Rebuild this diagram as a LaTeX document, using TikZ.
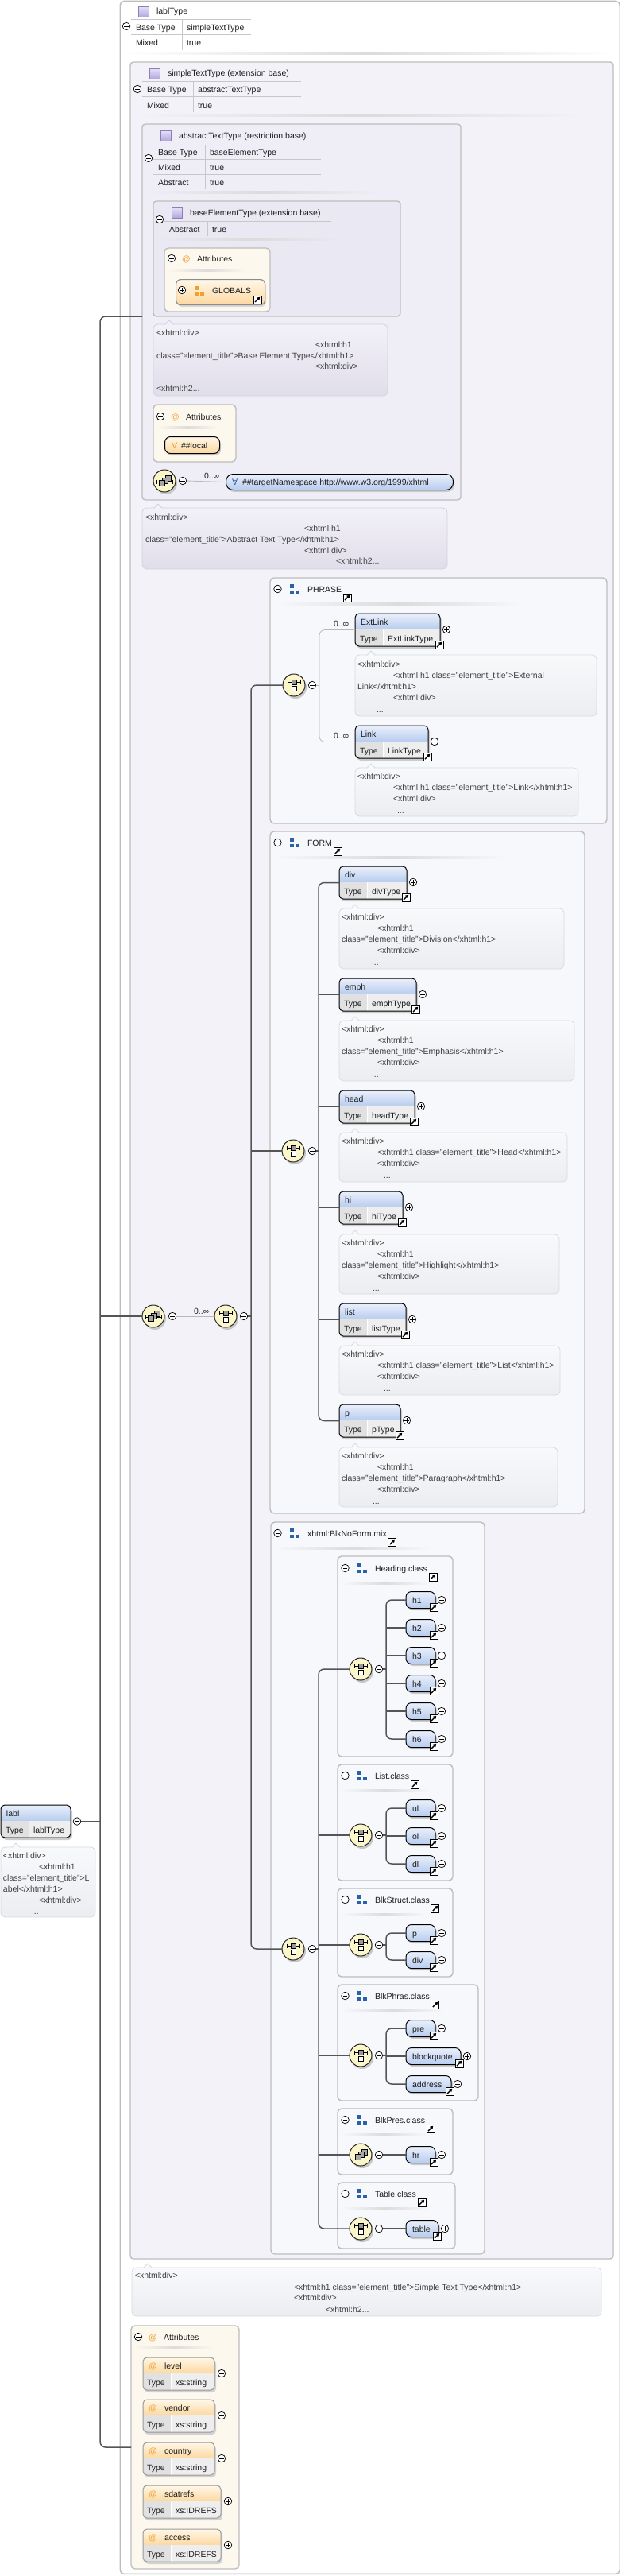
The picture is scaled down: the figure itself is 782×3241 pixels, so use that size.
\documentclass[tikz,border=0pt]{standalone}
\usepackage{fontspec}
\setmainfont{Liberation Sans}
\newfontfamily\dvs{DejaVu Sans}
\usetikzlibrary{arrows.meta,calc}

\definecolor{ctA}{HTML}{F4F2F9}
\definecolor{ctB}{HTML}{EFEDF6}
\definecolor{ctC}{HTML}{EAE8F2}
\definecolor{grpfill}{HTML}{F7F8FC}
\definecolor{boxline}{HTML}{BDBDBD}
\definecolor{connc}{HTML}{555555}
\definecolor{elhdtop}{HTML}{EAF0FB}
\definecolor{elhdbot}{HTML}{B7CCEF}
\definecolor{typerow}{HTML}{EEEEEE}
\definecolor{typecell}{HTML}{E1E1E1}
\definecolor{attrtop}{HTML}{FFF7E8}
\definecolor{attrbot}{HTML}{FCD8A0}
\definecolor{attrfill}{HTML}{FDF8EE}
\definecolor{orng}{HTML}{F0A030}
\definecolor{grpblue}{HTML}{2A62AA}
\definecolor{icfill}{HTML}{FAF6C9}
\definecolor{annAtop}{HTML}{F2F0F8}
\definecolor{annAbot}{HTML}{E1DEEB}
\definecolor{annAline}{HTML}{D3D0DE}
\definecolor{annBtop}{HTML}{F8F9FB}
\definecolor{annBbot}{HTML}{ECEDF1}
\definecolor{annBline}{HTML}{D9DADF}
\definecolor{lavtop}{HTML}{E6E0F7}
\definecolor{lavbot}{HTML}{B3A7DD}
\definecolor{lavline}{HTML}{8A80B6}
\definecolor{txtc}{HTML}{1E1E1E}
\definecolor{anntxt}{HTML}{404040}
\definecolor{tnsblue}{HTML}{3060B0}

\newcommand\dfs{\fontsize{10.5}{12}\selectfont}

\tikzset{
 lbl/.style={anchor=base west, inner sep=0pt, outer sep=0pt, font=\dfs, text=txtc},
 antx/.style={anchor=base west, inner sep=0pt, outer sep=0pt, font=\dfs, text=anntxt},
 conn/.style={draw=connc, line width=1.5pt, rounded corners=7pt},
 lconn/.style={draw=black!28, line width=0.8pt, rounded corners=7pt},
 pmc/.style={circle, draw=black, fill=white, line width=0.7pt, minimum size=9.5pt, inner sep=0pt, outer sep=0pt},
 ctbox/.style={draw=boxline, line width=1.4pt, rounded corners=4pt, inner sep=0pt, outer sep=0pt},
 grpbox/.style={draw=boxline, line width=1.4pt, fill=grpfill, rounded corners=5pt, inner sep=0pt, outer sep=0pt},
 atbox/.style={draw=boxline, line width=1.4pt, fill=attrfill, rounded corners=5pt, inner sep=0pt, outer sep=0pt},
 icn/.style={circle, draw=black!85, line width=1pt, fill=icfill, minimum size=28pt, inner sep=0pt, outer sep=0pt},
 lnkbox/.style={draw=black, fill=white, line width=0.8pt, minimum size=10pt, inner sep=0pt, outer sep=0pt},
 tbl/.style={draw=black!22, line width=1pt},
 cticn/.style={draw=lavline, line width=0.8pt, top color=lavtop, bottom color=lavbot, minimum size=13pt, inner sep=0pt, outer sep=0pt},
 annA/.style={draw=annAline, line width=0.8pt, rounded corners=6pt, top color=annAtop, bottom color=annAbot, inner sep=0pt, outer sep=0pt},
 annB/.style={draw=annBline, line width=0.8pt, rounded corners=6pt, top color=annBtop, bottom color=annBbot, inner sep=0pt, outer sep=0pt},
}

\newcommand\pmminus[2]{\node[pmc] (#1) at #2 {};%
 \draw[line width=0.8pt] ($(#1.center)+(-2.7,0)$) -- ($(#1.center)+(2.7,0)$);}
\newcommand\pmplus[2]{\node[pmc] (#1) at #2 {};%
 \draw[line width=0.8pt] ($(#1.center)+(-2.7,0)$) -- ($(#1.center)+(2.7,0)$)
   ($(#1.center)+(0,-2.7)$) -- ($(#1.center)+(0,2.7)$);}
\newcommand\lnk[2]{\node[lnkbox] (#1) at #2 {};%
 \draw[line width=1.4pt,-{Triangle[length=3.8pt,width=4.4pt]}] ($(#1.center)+(-3,3)$) -- ($(#1.center)+(3.3,-3.3)$);}
\newcommand\grpicon[3]{%
 \fill[#3] (#1,#2-6) rectangle (#1+4.5,#2-1.5);
 \fill[#3] (#1,#2+1.5) rectangle (#1+4.5,#2+6);
 \fill[#3] (#1+7,#2+2) rectangle (#1+11.5,#2+6);}
\newcommand\shadeline[4]{\shade[left color=#4,right color=#4,middle color=black!14] (#1,#3-1.2) rectangle (#2,#3+1.2);}
\newcommand\chicon[3]{%
 \fill[black!22] (#2+2,#3+3) circle (14pt);
 \node[icn] (#1) at (#2,#3) {};
 \draw[line width=0.8pt] (#2-8,#3-4) -- (#2+8,#3-4) (#2-8,#3-6.5) -- (#2-8,#3-1.5) (#2+8,#3-6.5) -- (#2+8,#3-1.5);
 \filldraw[fill=black!40, draw=black, line width=0.6pt] (#2-3,#3-7) rectangle (#2+3,#3-1);
 \filldraw[fill=white, draw=black, line width=0.6pt] (#2-3,#3+1.5) rectangle (#2+3,#3+7.5);}
\newcommand\seqicon[3]{%
 \fill[black!22] (#2+2,#3+3) circle (14pt);
 \node[icn] (#1) at (#2,#3) {};
 \draw[line width=0.8pt] (#2-10,#3+1) -- (#2+10,#3+1) (#2-10,#3-1.5) -- (#2-10,#3+3.5) (#2+10,#3-1.5) -- (#2+10,#3+3.5);
 \filldraw[fill=black!35, draw=black, line width=0.6pt] (#2+1,#3-7) rectangle (#2+8,#3);
 \filldraw[fill=black!35, draw=black, line width=0.6pt] (#2-3,#3-4) rectangle (#2+4,#3+3);
 \filldraw[fill=black!35, draw=black, line width=0.6pt] (#2-7,#3-1) rectangle (#2,#3+6);}
\newcommand\elemBox[6]{%
 \fill[black!20, rounded corners=5pt] (#2+2,#3+3) rectangle (#2+#4+2,#3+44);
 \begin{scope}
  \clip[rounded corners=5pt] (#2,#3) rectangle (#2+#4,#3+41);
  \shade[top color=elhdtop, bottom color=elhdbot] (#2,#3) rectangle (#2+#4,#3+20);
  \fill[typerow] (#2,#3+20) rectangle (#2+#4,#3+41);
  \fill[typecell] (#2,#3+20) rectangle (#2+35,#3+41);
 \end{scope}
 \draw[white, line width=1pt] (#2+35.5,#3+20) -- (#2+35.5,#3+41);
 \node[draw=black, line width=1pt, rounded corners=5pt, minimum width=#4pt, minimum height=41pt, anchor=north west, inner sep=0pt, outer sep=0pt] (#1) at (#2,#3) {};
 \node[lbl] (#1-n) at (#2+7,#3+14) {#5};
 \node[lbl] (#1-k) at (#2+6,#3+35) {Type};
 \node[lbl] (#1-t) at (#2+41,#3+35) {#6};}
\newcommand\elemT[6]{\elemBox{#1}{#2}{#3}{#4}{#5}{#6}%
 \pmplus{#1-p}{(#2+#4+8,#3+20)}%
 \lnk{#1-l}{(#2+#4-1,#3+39)}}
\newcommand\attrBox[6]{%
 \fill[black!18, rounded corners=5pt] (#2+2,#3+3) rectangle (#2+#4+2,#3+44);
 \begin{scope}
  \clip[rounded corners=5pt] (#2,#3) rectangle (#2+#4,#3+41);
  \shade[top color=attrtop, bottom color=attrbot] (#2,#3) rectangle (#2+#4,#3+20);
  \fill[typerow] (#2,#3+20) rectangle (#2+#4,#3+41);
  \fill[typecell] (#2,#3+20) rectangle (#2+35,#3+41);
 \end{scope}
 \draw[white, line width=1pt] (#2+35.5,#3+20) -- (#2+35.5,#3+41);
 \node[draw=black!40, line width=1pt, rounded corners=5pt, minimum width=#4pt, minimum height=41pt, anchor=north west, inner sep=0pt, outer sep=0pt] (#1) at (#2,#3) {};
 \node[lbl, text=orng] (#1-a) at (#2+7,#3+14) {@};
 \node[lbl] (#1-n) at (#2+27,#3+14) {#5};
 \node[lbl] (#1-k) at (#2+5,#3+35) {Type};
 \node[lbl] (#1-t) at (#2+41,#3+35) {#6};
 \pmplus{#1-p}{(#2+#4+9,#3+20)}}
\newcommand\elemS[5]{%
 \fill[black!20, rounded corners=7pt] (#2+2,#3-8) rectangle (#2+#4+2,#3+13);
 \node[draw=black, line width=1pt, rounded corners=7pt, minimum width=#4pt, minimum height=21pt, anchor=west, top color=elhdtop, bottom color=elhdbot, inner sep=0pt, outer sep=0pt] (#1) at (#2,#3) {};
 \node[lbl] (#1-n) at (#2+8,#3+4) {#5};
 \pmplus{#1-p}{(#2+#4+8,#3)}%
 \lnk{#1-l}{(#2+#4-2,#3+9)}}
\newcommand\ann[7]{%
 \node[ann#6, minimum width={(#4-#2)*1pt}, minimum height={(#5-#3)*1pt}, anchor=north west] (#1) at (#2,#3) {};
 \fill[ann#6top] (#7-5,#3+1.2) -- (#7,#3-5) -- (#7+5,#3+1.2) -- cycle;
 \draw[ann#6line, line width=0.8pt] (#7-5,#3) -- (#7,#3-5) -- (#7+5,#3);}
\newcommand\grptitle[6]{%
 \pmminus{#1M}{(#2+9.5,#3)}%
 \grpicon{#2+25}{#3}{grpblue}%
 \node[lbl] (#1T) at (#2+47,#3+4) {#4};
 \lnk{#1L}{($(#1T.base east)+(7,7)$)}%
 \shadeline{#2+5}{#5}{#3+19}{#6}}
% five-line annotation text
\newcommand\annfive[6]{%
 \node[antx] (#1a) at (#2,#4+4) {<xhtml:div>};
 \node[antx] (#1b) at (#3,#4+18.3) {<xhtml:h1};
 \node[antx] (#1c) at (#2,#4+32.5) {class="element\_title">#5</xhtml:h1>};
 \node[antx] (#1d) at (#3,#4+46.8) {<xhtml:div>};
 \node[antx] (#1e) at (#6,#4+61) {...};}
\newcommand\annfour[6]{%
 \node[antx] (#1a) at (#2,#4+4) {<xhtml:div>};
 \node[antx] (#1b) at (#3,#4+18.5) {<xhtml:h1 class="element\_title">#5</xhtml:h1>};
 \node[antx] (#1c) at (#3,#4+32) {<xhtml:div>};
 \node[antx] (#1d) at (#6,#4+47) {...};}

\begin{document}
\begin{tikzpicture}[x=1pt,y=-1pt]
\useasboundingbox[fill=white] (0,0) rectangle (782,3241);

% ===== outer lablType box
\node[draw=boxline, line width=1.4pt, rounded corners=5pt, fill=white, minimum width=629pt, minimum height=3237pt, anchor=north west, inner sep=0pt] (outer) at (150.5,0.7) {};
\node[cticn] (ltI) at (180.5,14.5) {};
\node[lbl] (ltT) at (197,18) {lablType};
\pmminus{ltM}{(159,33)}
\draw[tbl] (165,25) -- (316,25) (165,44) -- (316,44) (229,25) -- (229,63);
\node[lbl] (lt1) at (171,39) {Base Type};
\node[lbl] (lt2) at (235,39) {simpleTextType};
\node[lbl] (lt3) at (171,58) {Mixed};
\node[lbl] (lt4) at (235,58) {true};
\shadeline{155}{775}{67}{white}

% ===== simpleTextType
\node[ctbox, fill=ctA, minimum width=608pt, minimum height=2764pt, anchor=north west] (stt) at (164,78) {};
\node[cticn] (sttI) at (194.5,92.5) {};
\node[lbl] (sttT) at (211,96) {simpleTextType (extension base)};
\pmminus{sttM}{(173,112)}
\draw[tbl] (179,103) -- (379,103) (179,122) -- (379,122) (243,103) -- (243,141);
\node[lbl] (stt1) at (185,117) {Base Type};
\node[lbl] (stt2) at (249,117) {abstractTextType};
\node[lbl] (stt3) at (185,136) {Mixed};
\node[lbl] (stt4) at (249,136) {true};
\shadeline{169}{740}{145}{ctA}

% ===== abstractTextType
\node[ctbox, fill=ctB, minimum width=401pt, minimum height=473pt, anchor=north west] (abs) at (179,156) {};
\node[cticn] (absI) at (208.5,170.5) {};
\node[lbl] (absT) at (225,174) {abstractTextType (restriction base)};
\pmminus{absM}{(187,199)}
\draw[tbl] (193,182) -- (404,182) (193,200) -- (404,200) (193,219) -- (404,219) (258,182) -- (258,238);
\node[lbl] (abs1) at (199,195) {Base Type};
\node[lbl] (abs2) at (264,195) {baseElementType};
\node[lbl] (abs3) at (199,214) {Mixed};
\node[lbl] (abs4) at (264,214) {true};
\node[lbl] (abs5) at (199,233) {Abstract};
\node[lbl] (abs6) at (264,233) {true};
\shadeline{184}{480}{242}{ctB}

% ===== baseElementType
\node[ctbox, fill=ctC, minimum width=311pt, minimum height=145pt, anchor=north west] (bet) at (193,253) {};
\node[cticn] (betI) at (222.5,267.5) {};
\node[lbl] (betT) at (239,271) {baseElementType (extension base)};
\pmminus{betM}{(201,276)}
\draw[tbl] (207,278) -- (417,278) (261,278) -- (261,297);
\node[lbl] (bet1) at (213,292) {Abstract};
\node[lbl] (bet2) at (267,292) {true};
\shadeline{198}{430}{301}{ctC}

% attributes A
\node[atbox, minimum width=133pt, minimum height=80pt, anchor=north west] (atA) at (207,312) {};
\pmminus{atAM}{(216,325)}
\node[lbl, text=orng] (atAa) at (229,329) {@};
\node[lbl] (atAT) at (248,329) {Attributes};
\shadeline{212}{310}{340}{attrfill}
\fill[black!15, rounded corners=6pt] (223,354) rectangle (335,386);
\node[draw=black!45, line width=1.2pt, rounded corners=6pt, top color=attrtop, bottom color=attrbot, minimum width=112pt, minimum height=32pt, anchor=north west, inner sep=0pt] (glob) at (221,351) {};
\pmplus{globP}{(229,365)}
\grpicon{245}{366}{orng}
\node[lbl] (globT) at (267,369) {GLOBALS};
\lnk{globL}{(324,377)}

% annotation base element
\ann{betA}{193}{408}{488}{498}{A}{213}
\node[antx] (betAa) at (197,422) {<xhtml:div>};
\node[antx] (betAb) at (397,437) {<xhtml:h1};
\node[antx] (betAc) at (197,451) {class="element\_title">Base Element Type</xhtml:h1>};
\node[antx] (betAd) at (397,464) {<xhtml:div>};
\node[antx] (betAe) at (197,492) {<xhtml:h2...};

% attributes B
\node[atbox, minimum width=104pt, minimum height=72pt, anchor=north west] (atB) at (193,509) {};
\pmminus{atBM}{(202,524)}
\node[lbl, text=orng] (atBa) at (215,528) {@};
\node[lbl] (atBT) at (234,528) {Attributes};
\shadeline{198}{275}{538}{attrfill}
\fill[black!20, rounded corners=7pt] (209,552) rectangle (278,573);
\node[draw=black, line width=1pt, rounded corners=7pt, top color=attrtop, bottom color=attrbot, minimum width=69pt, minimum height=21pt, anchor=north west, inner sep=0pt] (loc) at (207,549) {};
\node[lbl, text=orng, font=\dvs\dfs] (locA) at (216,564) {∀};
\node[lbl] (locT) at (228,564) {\#\#local};

% any wildcard sequence
\seqicon{anyS}{207}{605}
\pmminus{anyM}{(230,605)}
\fill[black!20, rounded corners=9pt] (286,599) rectangle (572,619);
\node[draw=black, line width=1pt, rounded corners=9pt, top color=elhdtop, bottom color=elhdbot, minimum width=286pt, minimum height=20pt, anchor=north west, inner sep=0pt] (tns) at (284,596) {};
\draw[lconn] (anyM.east) -- (tns.west);
\node[lbl] (anyO) at (257,602) {0..∞};
\node[lbl, text=tnsblue, font=\dvs\dfs] (tnsA) at (292,610) {∀};
\node[lbl] (tnsT) at (305,610) {\#\#targetNamespace http://www.w3.org/1999/xhtml};

% annotation abstract
\ann{absA}{179}{639}{563}{716}{A}{199}
\node[antx] (absAa) at (183,654) {<xhtml:div>};
\node[antx] (absAb) at (383,668) {<xhtml:h1};
\node[antx] (absAc) at (183,682) {class="element\_title">Abstract Text Type</xhtml:h1>};
\node[antx] (absAd) at (383,696) {<xhtml:div>};
\node[antx] (absAe) at (423,709) {<xhtml:h2...};

% ===== PHRASE
\node[grpbox, minimum width=424pt, minimum height=309pt, anchor=north west] (phr) at (340,727) {};
\grptitle{phr}{340}{741}{PHRASE}{660}{grpfill}
\chicon{phCh}{370}{862}
\pmminus{phChM}{(393,862)}
\elemT{ext}{447}{772}{107}{ExtLink}{ExtLinkType}
\node[lbl] (extO) at (420,788) {0..∞};
\ann{extA}{447}{824}{751}{901}{B}{467}
\node[antx] (extAa) at (450,839) {<xhtml:div>};
\node[antx] (extAb) at (495,853) {<xhtml:h1 class="element\_title">External};
\node[antx] (extAc) at (450,867) {Link</xhtml:h1>};
\node[antx] (extAd) at (495,881) {<xhtml:div>};
\node[antx] (extAe) at (474,896) {...};
\elemT{link}{447}{913}{92}{Link}{LinkType}
\node[lbl] (linkO) at (420,929) {0..∞};
\ann{linkA}{447}{966}{728}{1027}{B}{467}
\annfour{linkA}{450}{495}{976}{Link}{500}

% ===== FORM
\node[grpbox, minimum width=396pt, minimum height=858pt, anchor=north west] (frm) at (340,1046) {};
\grptitle{frm}{340}{1060}{FORM}{637}{grpfill}
\chicon{fmCh}{369}{1448}
\pmminus{fmChM}{(393,1448)}
\elemT{fdiv}{427}{1090}{85}{div}{divType}
\ann{fdivA}{427}{1143}{710}{1219}{B}{447}
\annfive{fdivA}{430}{475}{1153}{Division}{468}
\elemT{emph}{427}{1231}{97}{emph}{emphType}
\ann{emphA}{427}{1284}{723}{1360}{B}{447}
\annfive{emphA}{430}{475}{1294}{Emphasis}{468}
\elemT{head}{427}{1372}{95}{head}{headType}
\ann{headA}{427}{1425}{714}{1487}{B}{447}
\annfour{headA}{430}{475}{1435}{Head}{483}
\elemT{hi}{427}{1499}{80}{hi}{hiType}
\ann{hiA}{427}{1553}{704}{1628}{B}{447}
\annfive{hiA}{430}{475}{1563}{Highlight}{469}
\elemT{list}{427}{1640}{84}{list}{listType}
\ann{listA}{427}{1693}{705}{1755}{B}{447}
\annfour{listA}{430}{475}{1703}{List}{483}
\elemT{fp}{427}{1767}{77}{p}{pType}
\ann{fpA}{427}{1821}{702}{1896}{B}{447}
\annfive{fpA}{430}{475}{1831}{Paragraph}{469}

% ===== xhtml:BlkNoForm.mix
\node[grpbox, minimum width=269pt, minimum height=921pt, anchor=north west] (bnf) at (341,1915) {};
\grptitle{bnf}{340}{1929}{xhtml:BlkNoForm.mix}{543}{grpfill}
\chicon{bnCh}{369}{2452}
\pmminus{bnChM}{(393,2452)}

% Heading.class
\node[grpbox, minimum width=145pt, minimum height=252pt, anchor=north west] (hec) at (425,1958) {};
\grptitle{hec}{425}{1973}{Heading.class}{540}{grpfill}
\chicon{heCh}{454}{2100}
\pmminus{heChM}{(477,2100)}
\elemS{h1}{511}{2013}{37}{h1}
\elemS{h2}{511}{2048}{37}{h2}
\elemS{h3}{511}{2083}{37}{h3}
\elemS{h4}{511}{2118}{37}{h4}
\elemS{h5}{511}{2153}{37}{h5}
\elemS{h6}{511}{2188}{37}{h6}

% List.class
\node[grpbox, minimum width=145pt, minimum height=146pt, anchor=north west] (lic) at (425,2220) {};
\grptitle{lic}{425}{2234}{List.class}{540}{grpfill}
\chicon{liCh}{454}{2309}
\pmminus{liChM}{(477,2309)}
\elemS{ul}{511}{2275}{37}{ul}
\elemS{ol}{511}{2310}{37}{ol}
\elemS{dl}{511}{2345}{37}{dl}

% BlkStruct.class
\node[grpbox, minimum width=145pt, minimum height=111pt, anchor=north west] (bsc) at (425,2376) {};
\grptitle{bsc}{425}{2390}{BlkStruct.class}{537}{grpfill}
\chicon{bsCh}{454}{2447}
\pmminus{bsChM}{(477,2447)}
\elemS{bsp}{511}{2432}{37}{p}
\elemS{bsdiv}{511}{2466}{37}{div}

% BlkPhras.class
\node[grpbox, minimum width=177pt, minimum height=146pt, anchor=north west] (bpc) at (425,2497) {};
\grptitle{bpc}{425}{2511}{BlkPhras.class}{560}{grpfill}
\chicon{bpCh}{454}{2586}
\pmminus{bpChM}{(477,2586)}
\elemS{pre}{511}{2552}{37}{pre}
\elemS{bq}{511}{2587}{69}{blockquote}
\elemS{addr}{511}{2622}{57}{address}

% BlkPres.class
\node[grpbox, minimum width=145pt, minimum height=83pt, anchor=north west] (brc) at (425,2653) {};
\grptitle{brc}{425}{2667}{BlkPres.class}{537}{grpfill}
\seqicon{prSq}{454}{2711}
\pmminus{prSqM}{(477,2711)}
\elemS{hr}{511}{2711}{37}{hr}

% Table.class
\node[grpbox, minimum width=148pt, minimum height=83pt, anchor=north west] (tac) at (425,2746) {};
\grptitle{tac}{425}{2760}{Table.class}{540}{grpfill}
\chicon{taCh}{454}{2804}
\pmminus{taChM}{(477,2804)}
\elemS{table}{511}{2804}{41}{table}

% ===== simpleTextType annotation
\ann{sttA}{166}{2853}{757}{2914}{B}{186}
\node[antx] (sttAa) at (170,2866) {<xhtml:div>};
\node[antx] (sttAb) at (370,2881) {<xhtml:h1 class="element\_title">Simple Text Type</xhtml:h1>};
\node[antx] (sttAc) at (370,2894) {<xhtml:div>};
\node[antx] (sttAd) at (410,2909) {<xhtml:h2...};

% ===== attributes C
\node[atbox, minimum width=136pt, minimum height=306pt, anchor=north west] (atC) at (165,2926) {};
\pmminus{atCM}{(174,2940)}
\node[lbl, text=orng] (atCa) at (187,2944) {@};
\node[lbl] (atCT) at (206,2944) {Attributes};
\shadeline{170}{268}{2954}{attrfill}
\attrBox{aLev}{180}{2966}{90}{level}{xs:string}
\attrBox{aVen}{180}{3019}{90}{vendor}{xs:string}
\attrBox{aCou}{180}{3073}{90}{country}{xs:string}
\attrBox{aSda}{180}{3127}{98}{sdatrefs}{xs:IDREFS}
\attrBox{aAcc}{180}{3182}{98}{access}{xs:IDREFS}

% ===== labl element
\elemBox{labl}{1}{2271}{88}{labl}{lablType}
\pmminus{lablM}{(97,2291.5)}
\ann{lablA}{1}{2324}{120}{2412}{B}{20}
\node[antx] (lablAa) at (4,2338) {<xhtml:div>};
\node[antx] (lablAb) at (49,2352) {<xhtml:h1};
\node[antx] (lablAc) at (4,2366) {class="element\_title">L};
\node[antx] (lablAd) at (4,2380) {abel</xhtml:h1>};
\node[antx] (lablAe) at (49,2394) {<xhtml:div>};
\node[antx] (lablAf) at (40,2408) {...};

% ===== main content model
\seqicon{mSq}{193}{1656}
\pmminus{mSqM}{(217,1656)}
\chicon{mCh}{284}{1656}
\pmminus{mChM}{(307,1656)}
\draw[lconn] (mSqM.east) -- (mCh.west);
\node[lbl] (mO) at (244,1653) {0..∞};

% ===== connectors
\coordinate (trunk) at (126,0);
\coordinate (br1) at (316,0);
\coordinate (br2) at (402,0);
\coordinate (br3) at (401,0);
\coordinate (br4) at (486,0);

\draw[conn] (abs.west |- bet.south) -- (trunk |- bet.south) -- (trunk |- atC.west) -- (atC.west);
\draw[conn] (lablM.east) -- (trunk |- lablM.east);
\draw[conn] (trunk |- mSq.west) -- (mSq.west);
\draw[conn] (mChM.east) -- (br1 |- mChM.east);
\draw[conn] (phCh.west) -- (br1 |- phCh.west) -- (br1 |- bnCh.west) -- (bnCh.west);
\draw[conn] (br1 |- fmCh.west) -- (fmCh.west);

\draw[lconn] (phChM.east) -- (br2 |- phChM.east);
\draw[lconn] (ext.west) -- (br2 |- ext.west) -- (br2 |- link.west) -- (link.west);

\draw[conn] (fmChM.east) -- (br3 |- fmChM.east);
\draw[conn] (fdiv.west) -- (br3 |- fdiv.west) -- (br3 |- fp.west) -- (fp.west);
\foreach \n in {emph,head,hi,list} {\draw[conn] (br3 |- \n.west) -- (\n.west);}

\draw[conn] (bnChM.east) -- (br3 |- bnChM.east);
\draw[conn] (heCh.west) -- (br3 |- heCh.west) -- (br3 |- taCh.west) -- (taCh.west);
\foreach \n in {liCh,bsCh,bpCh,prSq} {\draw[conn] (br3 |- \n.west) -- (\n.west);}

\draw[conn] (heChM.east) -- (br4 |- heChM.east);
\draw[conn] (h1.west) -- (br4 |- h1.west) -- (br4 |- h6.west) -- (h6.west);
\foreach \n in {h2,h3,h4,h5} {\draw[conn] (br4 |- \n.west) -- (\n.west);}

\draw[conn] (liChM.east) -- (br4 |- liChM.east);
\draw[conn] (ul.west) -- (br4 |- ul.west) -- (br4 |- dl.west) -- (dl.west);
\draw[conn] (br4 |- ol.west) -- (ol.west);

\draw[conn] (bsChM.east) -- (br4 |- bsChM.east);
\draw[conn] (bsp.west) -- (br4 |- bsp.west) -- (br4 |- bsdiv.west) -- (bsdiv.west);

\draw[conn] (bpChM.east) -- (br4 |- bpChM.east);
\draw[conn] (pre.west) -- (br4 |- pre.west) -- (br4 |- addr.west) -- (addr.west);
\draw[conn] (br4 |- bq.west) -- (bq.west);

\draw[conn] (prSqM.east) -- (hr.west);
\draw[conn] (taChM.east) -- (table.west);
\end{tikzpicture}
\end{document}
